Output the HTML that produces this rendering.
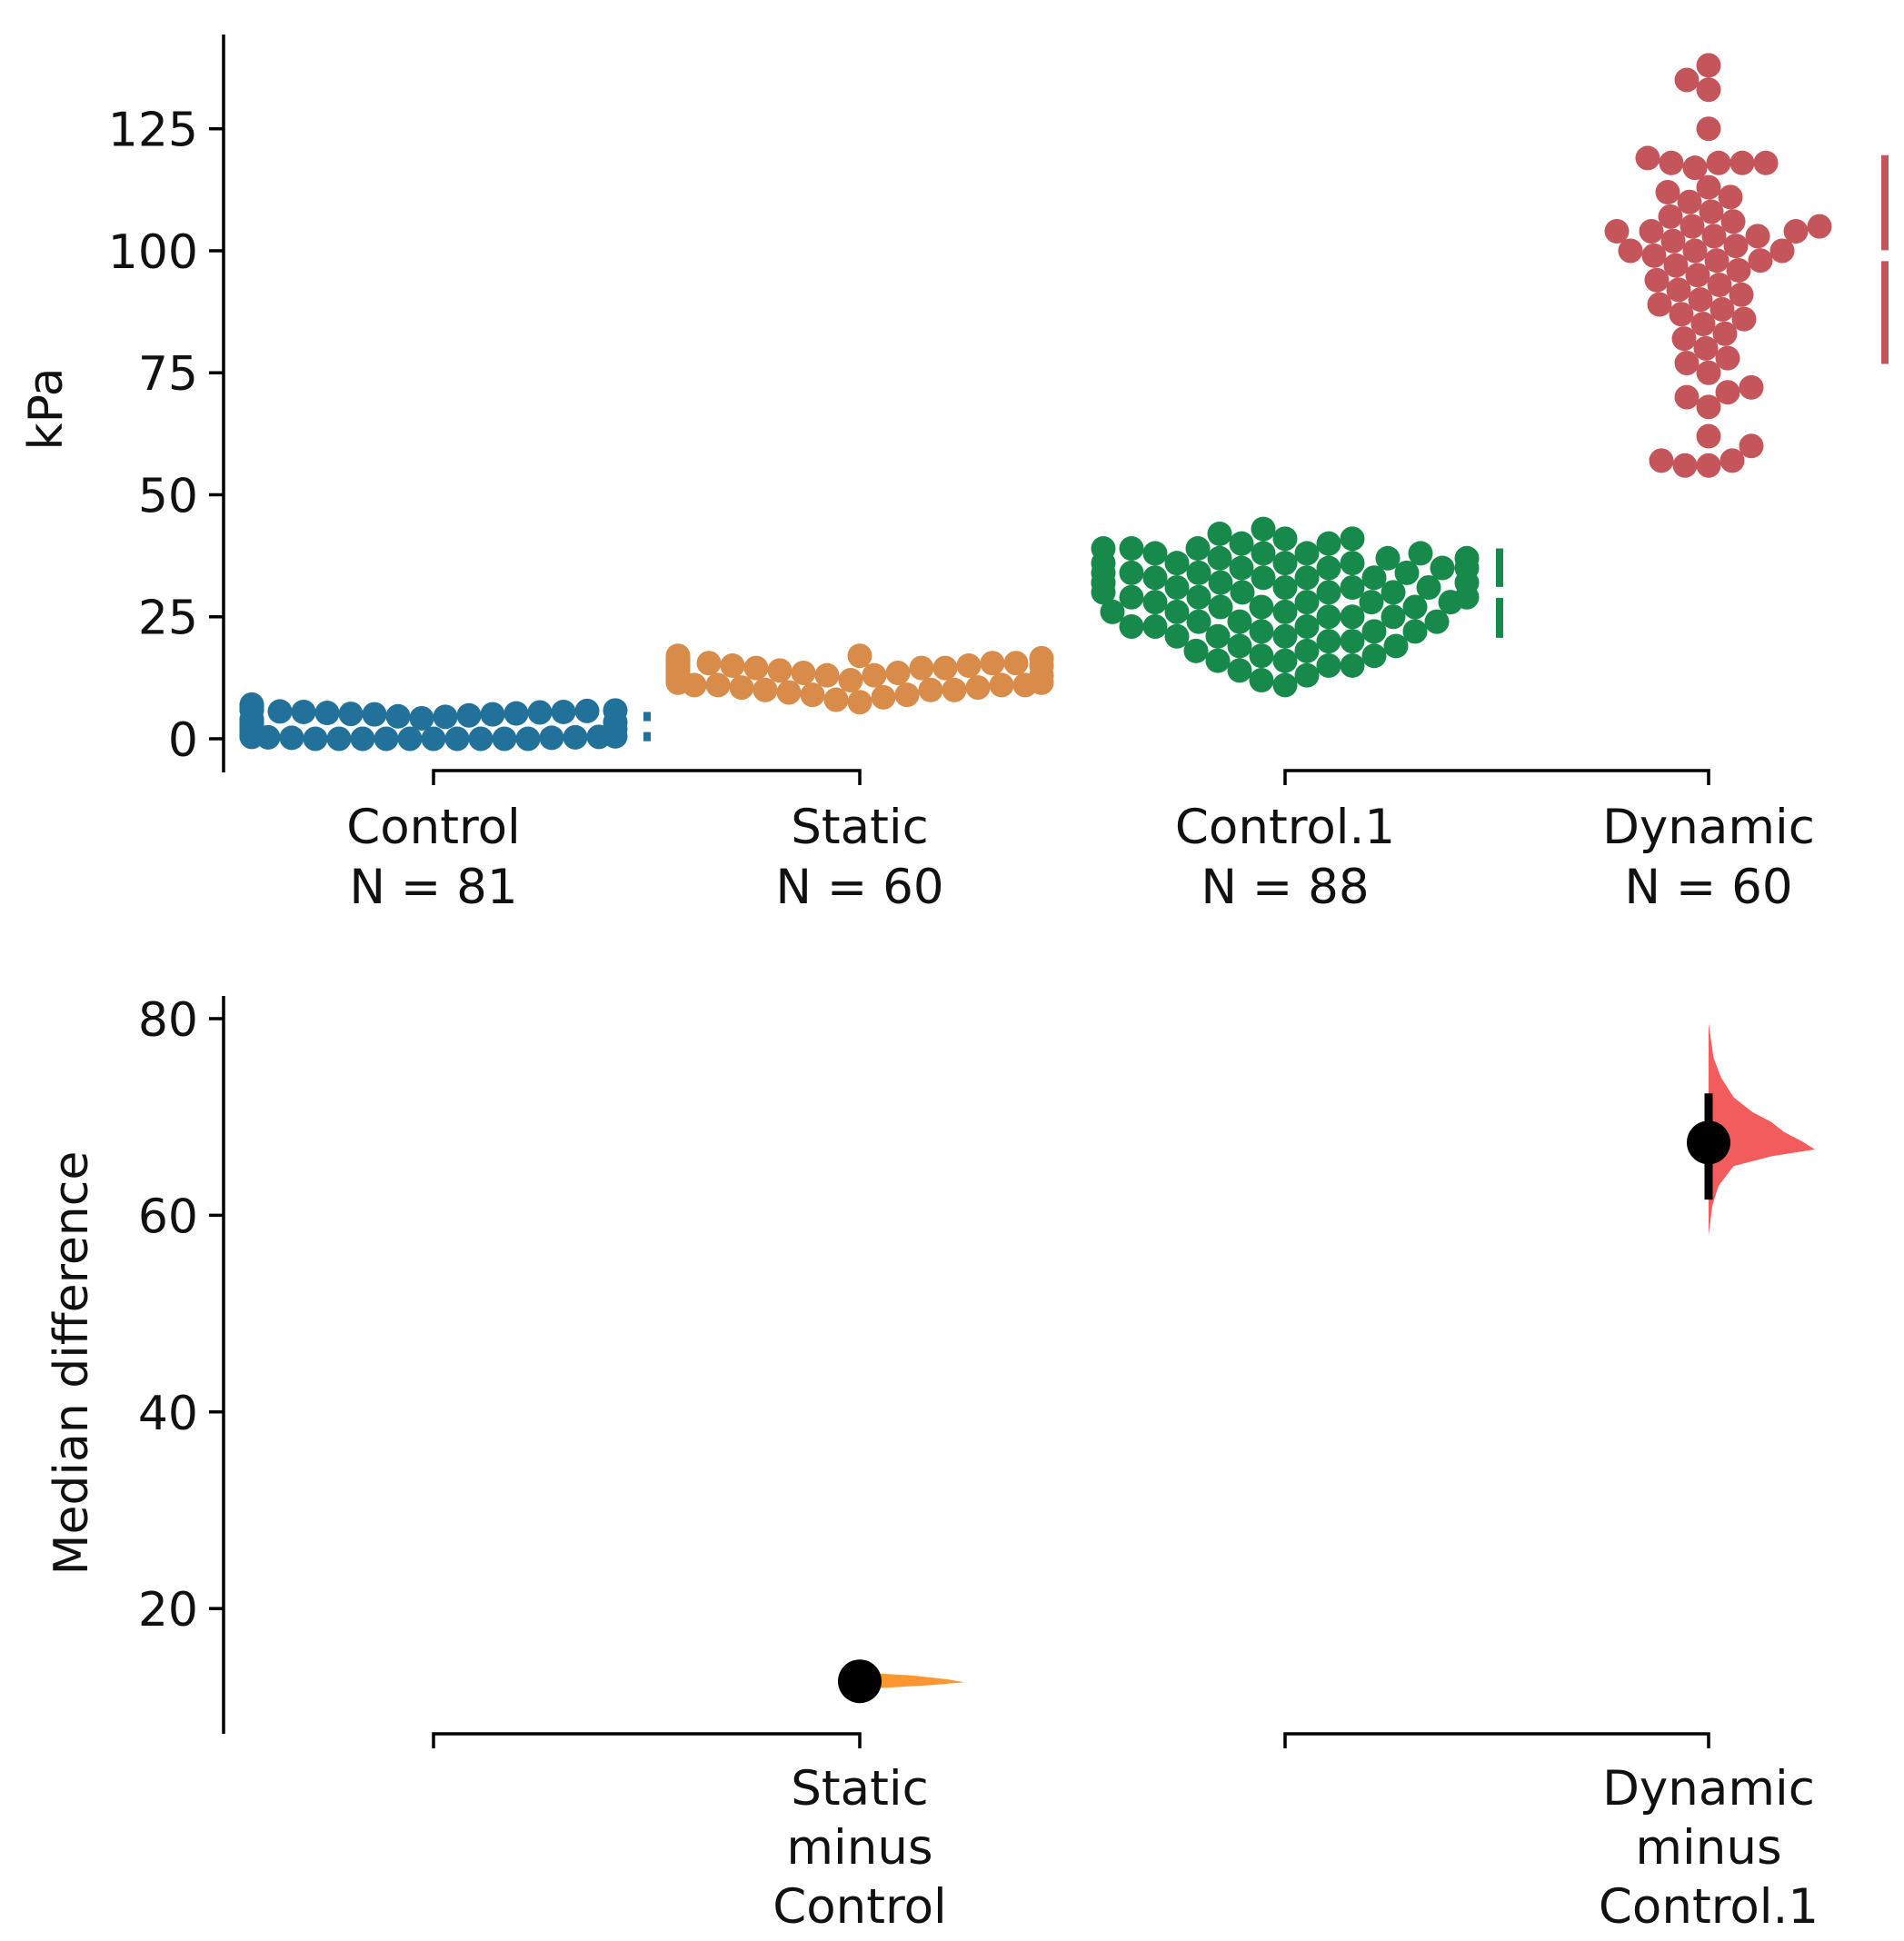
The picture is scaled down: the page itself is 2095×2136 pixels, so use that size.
<!DOCTYPE html>
<html><head><meta charset="utf-8"><style>
html,body{margin:0;padding:0;background:#fff;}
svg{display:block;font-family:"DejaVu Sans","Liberation Sans",sans-serif;}
</style></head><body>
<svg id="chart" width="2095" height="2136" viewBox="0 0 2095 2136" xmlns="http://www.w3.org/2000/svg"></svg>
<script>
const groups = ["Control","Static","Control.1","Dynamic"];
const groupN = ["N = 81","N = 60","N = 88","N = 60"];
const yTicksTop = [0,25,50,75,100,125];
const yTicksBottom = [20,40,60,80];
const controlVals = [0,0,0,0,0,0,0,0,0,0,0.2,0.2,0.3,0.3,0.4,0.4,0.5,0.5,0.5,0.6,0.6,0.7,0.7,0.8,0.8,0.9,0.9,1,1,1,1.1,1.2,1.2,1.3,1.4,1.5,1.5,1.6,1.7,1.8,2,2,2.1,2.2,2.3,2.5,2.6,2.8,3,3,3.2,3.4,3.5,3.7,3.9,4,4.2,4.5,4.6,4.8,5,5,5.1,5.2,5.3,5.4,5.5,5.5,5.6,5.7,5.8,5.9,6,6,6.1,6.2,6.3,6.4,6.5,6.8,7];
const staticVals = [7.5,8,8.5,9,9,9.5,10,10,10.5,10.5,11,11,11,11.5,11.5,12,12,12,12,12.5,12.5,12.5,13,13,13,13,13.5,13.5,13.5,14,14,14,14,14.5,14.5,14.5,15,15,15,15,15.5,15.5,15.5,16,16,16,16,16.5,16.5,16.5,17,17,10,11,12,13,14,15,16,13];
const control1Vals = [11,12,13,14,15,15,16,16,17,17,18,18,19,19,20,20,21,21,21,22,22,22,23,23,23,24,24,24,25,25,25,26,26,26,27,27,27,28,28,28,28,29,29,29,30,30,30,30,31,31,31,31,32,32,32,32,33,33,33,33,34,34,34,34,35,35,35,35,36,36,36,36,37,37,37,38,38,38,38,39,39,39,40,40,41,41,42,43];
const dynamicVals = [56,56,57,57,60,62,68,70,71,72,75,77,78,80,82,83,85,86,87,88,89,90,91,92,93,94,95,96,97,98,98,99,100,100,100,101,102,103,103,104,104,104,105,105,106,107,108,110,111,112,113,117,118,118,118,118,119,125,133,135,138];
const gapLow = [-0.5, 15.5, 20.7, 76.8];
const gapMid = [2.5, 16.2, 30, 99];
const gapHigh = [5.5, 16.9, 39, 119.6];
const diffLabels = [["Static","minus","Control"],["Dynamic","minus","Control.1"]];
const diffValues = [12.6, 67.4];
const diffCILow = [11.8, 61.6];
const diffCIHigh = [13.4, 72.4];
const violin1Y = [11.8,12.2,12.5,12.8,13.2,13.5];
const violin1W = [0,4,6,5,3,0];
const violin2Y = [58,61,63,65,66,66.7,67.5,68.5,69.5,70.5,72,74,76,79.5];
const violin2W = [0,3,8,20,50,85,75,60,50,35,20,10,4,0];

const NS="http://www.w3.org/2000/svg";
const svg=document.getElementById('chart');
function mk(tag,attrs,parent){const e=document.createElementNS(NS,tag);for(const k in attrs)e.setAttribute(k,attrs[k]);(parent||svg).appendChild(e);return e;}
const S=1.3756;
const axisX=246;
const xPos=i=>[477,946,1414,1880][i];
const yTop=v=>813-v*(97.6/25)*S;
const yBot=v=>1121+(80-v)*(157.3/20)*S;
const colors=["#22719a","#d98b4a","#178a4b","#c4555a"];
const allVals=[controlVals,staticVals,control1Vals,dynamicVals];

let g=mk('g',{});


mk('line',{x1:axisX,y1:38,x2:axisX,y2:850,stroke:'#000','stroke-width':3.5},g);
yTicksTop.forEach(t=>{
  const y=yTop(t);
  mk('line',{x1:axisX-16,y1:y,x2:axisX,y2:y,stroke:'#000','stroke-width':3.5},g);
  const tx=mk('text',{x:axisX-28,y:y+19,'text-anchor':'end','font-size':52,fill:'#111'},g);
  tx.textContent=t;
  
  
});
let yl=mk('text',{x:0,y:0,transform:'translate(68,450) rotate(-90)','text-anchor':'middle','font-size':52,fill:'#111'});
yl.textContent='kPa';



[[0,1],[2,3]].forEach(p=>{
  const b=mk('path',{d:`M${xPos(p[0])},864 V848 H${xPos(p[1])} V864`,fill:'none',stroke:'#000','stroke-width':3.5});
  
  
});
groups.forEach((n,i)=>{
  const t=mk('text',{x:xPos(i),y:928,'text-anchor':'middle','font-size':53,fill:'#111'});
  t.textContent=n;
  
  
  const t2=mk('text',{x:xPos(i),y:994,'text-anchor':'middle','font-size':53,fill:'#111'});
  t2.textContent=groupN[i];
  
  
});

const R=13.5;
allVals.forEach((vals,gi)=>{
  const sg=mk('g',{});
  
  
  const placed=[];
  const sorted=vals.slice().sort((a,b)=>a-b);
  sorted.forEach(v=>{
    const y=yTop(v);
    let best=0;
    for(let k=0;k<500;k++){
      const off=(k%2===0?1:-1)*Math.ceil(k/2);
      let ok=true;
      for(const p of placed){const dx=p[0]-off,dy=p[1]-y;if(dx*dx+dy*dy<(2*R-1)*(2*R-1)){ok=false;break;}}
      if(ok){best=off;break;}
    }
    best=Math.max(-200,Math.min(200,best));
    placed.push([best,y]);
    const c=mk('circle',{cx:xPos(gi)+best,cy:y,r:R,fill:colors[gi]},sg);
    
    
  });
  const gxx=[712,1182,1650,2074][gi];
  const gap=6;
  const l1=mk('line',{x1:gxx,y1:yTop(gapHigh[gi]),x2:gxx,y2:Math.max(yTop(gapHigh[gi]),yTop(gapMid[gi])-gap),stroke:colors[gi],'stroke-width':8},sg);
  
  
  const l2=mk('line',{x1:gxx,y1:Math.min(yTop(gapLow[gi]),yTop(gapMid[gi])+gap),x2:gxx,y2:yTop(gapLow[gi]),stroke:colors[gi],'stroke-width':8},sg);
  
  
});

g=mk('g',{});


mk('line',{x1:axisX,y1:1096,x2:axisX,y2:1908,stroke:'#000','stroke-width':3.5},g);
yTicksBottom.forEach(t=>{
  const y=yBot(t);
  mk('line',{x1:axisX-16,y1:y,x2:axisX,y2:y,stroke:'#000','stroke-width':3.5},g);
  const tx=mk('text',{x:axisX-28,y:y+19,'text-anchor':'end','font-size':52,fill:'#111'},g);
  tx.textContent=t;
  
  
});
yl=mk('text',{x:0,y:0,transform:'translate(96,1500) rotate(-90)','text-anchor':'middle','font-size':52,fill:'#111'});
yl.textContent='Median difference';


[[0,1],[2,3]].forEach(p=>{
  const b=mk('path',{d:`M${xPos(p[0])},1924 V1908 H${xPos(p[1])} V1924`,fill:'none',stroke:'#000','stroke-width':3.5});
  
  
});
diffLabels.forEach((lines,i)=>{
  lines.forEach((s,j)=>{
    const t=mk('text',{x:xPos(i*2+1),y:1986+j*65,'text-anchor':'middle','font-size':53,fill:'#111'});
    t.textContent=s;
    
    
  });
});
function violin(ys,ws,cx,color,name){
  let d=`M${cx},${yBot(ys[0])}`;
  ys.forEach((v,i)=>{d+=` L${cx+ws[i]*S},${yBot(v)}`;});
  d+=' Z';
  const p=mk('path',{d:d,fill:color,opacity:0.9});
  
  
}
violin(violin1Y,violin1W.map(w=>w*14),xPos(1),'#ff8c1a','bootstrap-distribution-static');
violin(violin2Y,violin2W,xPos(3),'#f24a4a','bootstrap-distribution-dynamic');
diffValues.forEach((v,i)=>{
  const cx=xPos(i*2+1);
  const ci=mk('line',{x1:cx,y1:yBot(diffCIHigh[i]),x2:cx,y2:yBot(diffCILow[i]),stroke:'#000','stroke-width':9});
  
  
  const c=mk('circle',{cx:cx,cy:yBot(v),r:24,fill:'#000'});
  
  
});
</script>
</body></html>
